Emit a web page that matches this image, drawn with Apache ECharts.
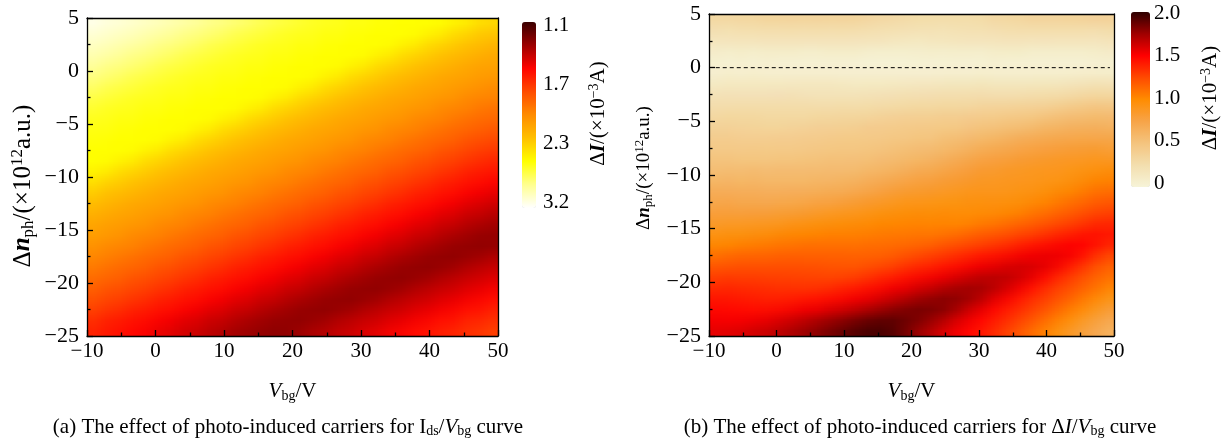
<!DOCTYPE html>
<html><head><meta charset="utf-8">
<script src="https://cdn.jsdelivr.net/npm/echarts@6/dist/echarts.min.js"></script>
<style>
html,body{margin:0;padding:0;background:#fff}
#wrap{position:relative;width:1229px;height:448px;overflow:hidden;background:#fff}
#c{position:absolute;left:0;top:0;width:1229px;height:448px;z-index:2}
.heat{position:absolute;transform-origin:0 0;z-index:1}
</style>
</head><body><div id="wrap"><div id="hA" class="heat"></div><div id="hB" class="heat"></div><div id="c"></div></div>
<script>
// ---------- data ----------
const xTicks = [-10, 0, 10, 20, 30, 40, 50];          // V_bg / V
const yTicks = [-25, -20, -15, -10, -5, 0, 5];        // Δn_ph / (1e12 a.u.)
// heat-map cell centres (V_bg) and rows (Δn_ph, top row first)
const xCells = [-9.06,-7.19,-5.31,-3.44,-1.56,0.31,2.19,4.06,5.94,7.81,9.69,11.56,13.44,15.31,17.19,19.06,
                20.94,22.81,24.69,26.56,28.44,30.31,32.19,34.06,35.94,37.81,39.69,41.56,43.44,45.31,47.19,49.06];
const yCells = [4.5,3.5,2.5,1.5,0.5,-0.5,-1.5,-2.5,-3.5,-4.5,-5.5,-6.5,-7.5,-8.5,-9.5,
                -10.5,-11.5,-12.5,-13.5,-14.5,-15.5,-16.5,-17.5,-18.5,-19.5,-20.5,-21.5,-22.5,-23.5,-24.5];
// (a) colour level, % of the colour bar (0 = white/3.2, 100 = top/1.1)
const levelA = [
[2,3,4,5,6,7,8,9,10,12,13,14,15,17,18,19,20,21,22,22,23,23,24,24,25,25,25,25,26,27,30,32],
[4,5,6,7,8,9,10,12,13,14,15,17,18,19,20,21,22,22,23,23,24,24,25,25,25,25,26,27,30,32,34,36],
[6,7,8,9,10,12,13,14,15,17,18,19,20,21,22,22,23,23,24,24,25,25,25,25,26,27,30,32,34,36,37,39],
[8,9,10,12,13,14,15,17,18,19,20,21,22,22,23,23,24,24,25,25,25,25,26,27,30,32,34,36,37,39,40,42],
[10,12,13,14,15,17,18,19,20,21,22,22,23,23,24,24,25,25,25,25,26,27,30,32,34,36,37,39,40,42,43,44],
[13,14,15,17,18,19,20,21,22,22,23,23,24,24,25,25,25,25,26,27,30,32,34,36,37,39,40,42,43,44,45,46],
[15,17,18,19,20,21,22,22,23,23,24,24,25,25,25,25,26,27,30,32,34,36,37,39,40,42,43,44,45,46,47,49],
[18,19,20,21,22,22,23,23,24,24,25,25,25,25,26,27,30,32,34,36,37,39,40,42,43,44,45,46,47,49,50,51],
[20,21,22,22,23,23,24,24,25,25,25,25,26,27,30,32,34,36,37,39,40,42,43,44,45,46,47,49,50,51,52,54],
[22,22,23,23,24,24,25,25,25,25,26,27,30,32,34,36,37,39,40,42,43,44,45,46,47,49,50,51,52,54,55,56],
[23,23,24,24,25,25,25,25,26,27,30,32,34,36,37,39,40,42,43,44,45,46,47,49,50,51,52,54,55,56,57,59],
[24,24,25,25,25,25,26,27,30,32,34,36,37,39,40,42,43,44,45,46,47,49,50,51,52,54,55,56,57,59,60,62],
[25,25,25,25,26,27,30,32,34,36,37,39,40,42,43,44,45,46,47,49,50,51,52,54,55,56,57,59,60,62,63,65],
[25,25,26,27,30,32,34,36,37,39,40,42,43,44,45,46,47,49,50,51,52,54,55,56,57,59,60,62,63,65,66,68],
[26,27,30,32,34,36,37,39,40,42,43,44,45,46,47,49,50,51,52,54,55,56,57,59,60,62,63,65,66,68,69,71],
[30,32,34,36,37,39,40,42,43,44,45,46,47,49,50,51,52,54,55,56,57,59,60,62,63,65,66,68,69,71,72,74],
[34,36,37,39,40,42,43,44,45,46,47,49,50,51,52,54,55,56,57,59,60,62,63,65,66,68,69,71,72,74,75,77],
[37,39,40,42,43,44,45,46,47,49,50,51,52,54,55,56,57,59,60,62,63,65,66,68,69,71,72,74,75,77,78,80],
[40,42,43,44,45,46,47,49,50,51,52,54,55,56,57,59,60,62,63,65,66,68,69,71,72,74,75,77,78,80,81,83],
[43,44,45,46,47,49,50,51,52,54,55,56,57,59,60,62,63,65,66,68,69,71,72,74,75,77,78,80,81,83,84,86],
[45,46,47,49,50,51,52,54,55,56,57,59,60,62,63,65,66,68,69,71,72,74,75,77,78,80,81,83,84,86,87,88],
[47,49,50,51,52,54,55,56,57,59,60,62,63,65,66,68,69,71,72,74,75,77,78,80,81,83,84,86,87,88,89,89],
[50,51,52,54,55,56,57,59,60,62,63,65,66,68,69,71,72,74,75,77,78,80,81,83,84,86,87,88,89,89,88,86],
[52,54,55,56,57,59,60,62,63,65,66,68,69,71,72,74,75,77,78,80,81,83,84,86,87,88,89,89,88,86,85,83],
[55,56,57,59,60,62,63,65,66,68,69,71,72,74,75,77,78,80,81,83,84,86,87,88,89,89,88,86,85,83,82,80],
[57,59,60,62,63,65,66,68,69,71,72,74,75,77,78,80,81,83,84,86,87,88,89,89,88,86,85,83,82,80,79,77],
[60,62,63,65,66,68,69,71,72,74,75,77,78,80,81,83,84,86,87,88,89,89,88,86,85,83,82,80,79,77,76,74],
[63,65,66,68,69,71,72,74,75,77,78,80,81,83,84,86,87,88,89,89,88,86,85,83,82,80,79,77,76,74,73,71],
[66,68,69,71,72,74,75,77,78,80,81,83,84,86,87,88,89,89,88,86,85,83,82,80,79,77,76,74,73,71,70,68],
[69,71,72,74,75,77,78,80,81,83,84,86,87,88,89,89,88,86,85,83,82,80,79,77,76,74,73,71,70,68,67,65]
];
// (b) ΔI, in units of 1e-5 A (200 = 2.0 ×10^-3 A)
const deltaIB = [
[32,32,33,33,35,35,35,35,36,35,36,35,34,32,31,30,29,29,28,28,28,29,31,32,33,35,35,36,36,37,38,38],
[25,25,26,26,27,27,28,27,28,27,28,27,26,25,24,23,22,22,21,22,23,23,25,26,26,28,28,28,29,28,28,29],
[18,18,19,19,20,20,20,20,20,20,20,20,19,18,17,16,15,16,16,17,18,18,19,20,20,19,20,19,19,19,19,20],
[11,10,12,11,12,12,12,11,11,12,12,12,11,10,9,9,9,10,10,11,11,11,12,12,13,11,11,11,11,11,11,12],
[4,3,4,3,4,3,3,3,3,3,3,3,2,2,2,2,2,3,2,3,3,2,4,3,3,3,3,3,3,3,3,4],
[3,4,3,4,3,3,3,3,3,3,3,2,2,2,2,2,3,2,3,3,2,4,3,3,3,3,3,3,3,3,4,4],
[10,11,11,11,11,11,11,12,12,12,11,10,10,10,11,11,12,12,12,13,13,14,13,13,13,13,13,13,14,15,16,16],
[17,18,17,18,17,18,19,18,18,17,17,16,17,17,18,19,19,20,21,21,21,22,21,21,21,21,22,23,24,25,27,28],
[23,24,24,24,24,24,24,24,23,23,24,23,24,25,25,27,28,28,29,29,29,30,30,30,31,32,33,34,37,39,41,41],
[29,30,30,30,29,29,29,29,30,30,31,31,31,33,34,35,36,36,37,37,38,39,39,41,42,43,45,48,50,51,54,54],
[35,35,34,34,33,33,34,34,35,36,36,37,38,39,40,41,42,42,43,43,45,47,48,49,51,53,56,57,60,61,62,62],
[39,39,38,38,38,38,38,39,39,41,42,42,43,44,45,46,47,47,49,51,52,55,56,59,62,63,66,68,68,70,70,70],
[43,43,42,42,42,43,42,44,45,45,46,46,47,48,49,50,52,53,55,57,60,64,66,68,71,73,74,76,77,78,79,78],
[48,48,47,48,46,48,48,49,49,50,50,50,51,52,54,56,58,59,62,65,69,72,74,76,78,80,82,83,84,84,86,85],
[53,53,52,53,52,53,53,53,53,54,54,54,56,58,60,62,65,67,70,73,76,80,81,83,85,86,88,88,90,91,92,94],
[58,59,58,59,58,58,58,58,59,59,60,61,63,65,68,71,74,75,78,80,82,85,86,87,88,89,90,90,92,94,98,101],
[65,65,64,64,63,63,63,63,64,65,66,67,70,73,76,78,81,82,83,85,87,89,89,89,91,91,93,95,98,102,106,109],
[71,71,70,70,69,69,70,71,72,73,75,77,80,82,85,87,88,89,90,91,92,93,93,93,94,96,99,103,106,110,114,117],
[77,77,76,76,76,77,78,79,81,83,85,86,89,91,92,94,95,95,96,96,96,97,96,98,101,104,107,111,114,118,122,125],
[83,83,83,84,84,85,87,89,91,92,94,95,96,98,99,100,101,100,101,100,100,103,104,107,109,113,116,119,123,127,131,134],
[90,91,91,92,93,95,97,98,100,101,101,102,103,104,105,105,106,105,106,107,109,113,114,117,120,123,127,130,134,138,141,141],
[98,99,100,102,103,104,106,107,107,108,108,108,109,109,110,110,111,112,115,118,120,124,126,129,133,136,140,144,147,148,147,141],
[107,109,110,111,112,113,113,114,114,114,114,113,114,114,115,117,120,123,126,129,132,136,139,142,146,150,153,154,153,148,139,129],
[117,118,119,120,119,120,120,120,120,119,119,118,119,121,124,128,131,134,138,141,145,149,152,156,159,160,159,154,145,136,127,118],
[126,127,126,127,126,126,126,125,125,124,124,125,128,132,135,139,143,146,151,154,158,163,165,166,165,160,151,142,133,125,119,112],
[133,134,133,133,132,131,131,130,130,131,133,136,139,143,147,151,156,159,164,168,171,173,171,166,157,148,139,131,125,119,113,105],
[140,140,139,138,137,136,136,137,139,142,144,147,151,155,160,164,169,173,177,178,177,173,163,154,145,137,131,125,119,112,104,95],
[146,145,144,143,142,143,145,148,150,153,156,159,164,168,173,178,182,183,183,178,169,161,151,143,137,131,125,118,110,102,94,84],
[151,150,149,150,152,155,158,162,166,170,174,178,182,185,187,186,184,180,174,166,157,150,143,137,131,124,116,108,100,91,83,74],
[156,157,158,161,163,166,170,174,178,182,186,190,193,194,192,186,178,171,163,155,149,144,137,130,122,114,106,97,89,81,74,66]
];
const cbarATicks = ['3.2', '2.3', '1.7', '1.1'];
const cbarBTicks = ['0', '0.5', '1.0', '1.5', '2.0'];
const refLineB = [[-9, 0], [49.4, 0]];   // dashed Δn_ph = 0 line in (b)

// ---------- layout / styling ----------
const plotA = {left: 87, top: 18, width: 411, height: 318};
const plotB = {left: 709, top: 14, width: 405, height: 322};
const SERIF = '"Liberation Serif","Times New Roman",serif';
function richFor(fs, sfs) {
  const b = {fontFamily: SERIF, fontSize: fs, color: '#000', lineHeight: Math.round(fs * 1.2)};
  const pad = Math.round(fs * 0.45);
  return {
    n: Object.assign({}, b),
    it: Object.assign({}, b, {fontStyle: 'italic'}),
    bi: Object.assign({}, b, {fontStyle: 'italic', fontWeight: 'bold'}),
    sub: {fontFamily: SERIF, fontSize: sfs, color: '#000', lineHeight: sfs, padding: [pad, 0, 0, 0]},
    sup: {fontFamily: SERIF, fontSize: sfs, color: '#000', lineHeight: sfs, padding: [0, 0, pad, 0]}
  };
}
const rich21 = richFor(21, 14);
const richYA = richFor(25, 17);
const richYB = richFor(19, 13);
const minus = v => (v < 0 ? '\u2212' + Math.abs(v) : String(v));
const lineS = {color: '#000', width: 1.3};
const cA = ['#ffffff','#ffff90','#ffff00','#ffc000','#ff8c00','#ff4c00','#ff0400','#9c0000','#3a0000'];
const cB = ['#f6f4d8','#f3deae','#f4c47e','#f7a448','#ff8c00','#ff4a00','#ff0000','#a00000','#2e0000'];

const yName = '{n|\u0394}{bi|n}{sub|ph}{n|/(\u00d710}{sup|12}{n|a.u.)}';
const xName = '{it|V}{sub|bg}{n|/V}';
const cbName = '{n|\u0394}{bi|I}{n|/(\u00d710}{sup|\u22123}{n|A)}';

function valX(g) {
  return {type: 'value', gridIndex: g, position: 'bottom', min: xTicks[0], max: xTicks[xTicks.length - 1],
    interval: xTicks[1] - xTicks[0], z: 10,
    axisLine: {show: true, onZero: false, lineStyle: lineS},
    axisTick: {show: true, inside: true, length: 6, lineStyle: lineS},
    minorTick: {show: true, splitNumber: 2, length: 3.5, lineStyle: lineS},
    axisLabel: {color: '#000', fontFamily: SERIF, fontSize: 21, margin: 5, formatter: minus},
    splitLine: {show: false}, minorSplitLine: {show: false},
    name: xName, nameLocation: 'middle', nameGap: 43, nameTextStyle: {rich: rich21}};
}
function valY(g, rich, gap, pad) {
  return {type: 'value', gridIndex: g, position: 'left', min: yTicks[0], max: yTicks[yTicks.length - 1],
    interval: yTicks[1] - yTicks[0], z: 10,
    axisLine: {show: true, onZero: false, lineStyle: lineS},
    axisTick: {show: true, inside: true, length: 6, lineStyle: lineS},
    minorTick: {show: true, splitNumber: 2, length: 3.5, lineStyle: lineS},
    axisLabel: {color: '#000', fontFamily: SERIF, fontSize: 22, margin: 8, formatter: minus},
    splitLine: {show: false}, minorSplitLine: {show: false},
    name: yName, nameLocation: 'middle', nameRotate: 90, nameGap: gap,
    nameTextStyle: {rich: rich, padding: pad}};
}
function catX(g) {
  return {type: 'category', gridIndex: g, position: 'top', data: xCells, boundaryGap: true, z: 10,
    axisLine: {show: true, onZero: false, lineStyle: lineS}, axisTick: {show: false},
    axisLabel: {show: false}, splitLine: {show: false}};
}
function catY(g) {
  return {type: 'category', gridIndex: g, position: 'right', data: yCells, inverse: true, boundaryGap: true, z: 10,
    axisLine: {show: true, onZero: false, lineStyle: lineS}, axisTick: {show: false},
    axisLabel: {show: false}, splitLine: {show: false}};
}
function cbY(g, ticks, margin, gap) {
  return {type: 'category', gridIndex: g, position: 'right', data: ticks, boundaryGap: false,
    axisLine: {show: false}, axisTick: {show: false}, splitLine: {show: false},
    axisLabel: {color: '#000', fontFamily: SERIF, fontSize: 21, margin: margin},
    name: cbName, nameLocation: 'middle', nameRotate: 90, nameGap: gap, nameTextStyle: {rich: rich21}};
}
function toCells(m) {
  const out = [];
  m.forEach((row, i) => row.forEach((v, j) => out.push([j, i, v])));
  return out;
}
function gridOf(p) {
  return {left: p.left, top: p.top, width: p.width, height: p.height, outerBoundsMode: 'none'};
}

// ---- smooth heat maps: each cell is 1 canvas pixel, the browser scales the picture up to the plot area ----
function heatChart(id, plot, matrix, min, max, colors) {
  const el = document.getElementById(id);
  const nx = matrix[0].length, ny = matrix.length;
  el.style.left = plot.left + 'px';
  el.style.top = plot.top + 'px';
  el.style.width = nx + 'px';
  el.style.height = ny + 'px';
  el.style.transform = 'scale(' + (plot.width / nx) + ',' + (plot.height / ny) + ')';
  const ch = echarts.init(el, null, {renderer: 'canvas', devicePixelRatio: 1});
  ch.setOption({
    animation: false,
    grid: {left: 0, top: 0, right: 0, bottom: 0, outerBoundsMode: 'none'},
    xAxis: {type: 'category', data: xCells, show: false, boundaryGap: true},
    yAxis: {type: 'category', data: yCells, show: false, inverse: true, boundaryGap: true},
    visualMap: {show: false, type: 'continuous', min: min, max: max, inRange: {color: colors}},
    series: [{type: 'heatmap', data: toCells(matrix), progressive: 0, silent: true}]
  });
}
heatChart('hA', plotA, levelA, 0, 100, cA);
heatChart('hB', plotB, deltaIB, 0, 200, cB);

const option = {
  animation: false,
  grid: [
    gridOf(plotA), gridOf(plotB),
    {left: 522, top: 25, width: 14, height: 177, outerBoundsMode: 'none'},
    {left: 1131, top: 13, width: 19, height: 170, outerBoundsMode: 'none'}
  ],
  xAxis: [valX(0), catX(0), valX(1), catX(1),
    {type: 'value', gridIndex: 2, show: false, min: 0, max: 1},
    {type: 'value', gridIndex: 3, show: false, min: 0, max: 1}],
  yAxis: [valY(0, richYA, 49, [0, 18, 0, 0]), catY(0), valY(1, richYB, 53, [0, 0, 0, 14]), catY(1),
    cbY(2, cbarATicks, 7, 50), cbY(3, cbarBTicks, 4, 48)],
  visualMap: [
    {type: 'continuous', seriesIndex: 0, min: 0, max: 100, calculable: false, orient: 'vertical',
      left: 522, top: 22, itemWidth: 14, itemHeight: 186, padding: 0, hoverLink: false,
      inRange: {color: cA}},
    {type: 'continuous', seriesIndex: 1, min: 0, max: 200, calculable: false, orient: 'vertical',
      left: 1131, top: 12, itemWidth: 19, itemHeight: 175, padding: 0, hoverLink: false,
      inRange: {color: cB}}
  ],
  series: [
    // same cells, kept in the main chart for the colour scales; shown by the smooth layers underneath
    {type: 'heatmap', xAxisIndex: 1, yAxisIndex: 1, data: toCells(levelA), z: 1, silent: true,
      progressive: 0, itemStyle: {opacity: 0}},
    {type: 'heatmap', xAxisIndex: 3, yAxisIndex: 3, data: toCells(deltaIB), z: 1, silent: true,
      progressive: 0, itemStyle: {opacity: 0}},
    {type: 'line', xAxisIndex: 2, yAxisIndex: 2, data: refLineB, symbol: 'none', z: 5, silent: true,
      lineStyle: {color: '#000', width: 1, type: [4, 3]}}
  ],
  graphic: [
    {type: 'text', x: 288, y: 427, silent: true,
      style: {text: '{n|(a) The effect of photo-induced carriers for I}{sub|ds}{n|/}{it|V}{sub|bg}{n| curve}',
        rich: rich21, align: 'center', verticalAlign: 'middle', textAlign: 'center', textVerticalAlign: 'middle'}},
    {type: 'text', x: 920, y: 427, silent: true,
      style: {text: '{n|(b) The effect of photo-induced carriers for \u0394}{it|I}{n|/}{it|V}{sub|bg}{n| curve}',
        rich: rich21, align: 'center', verticalAlign: 'middle', textAlign: 'center', textVerticalAlign: 'middle'}}
  ]
};
const chart = echarts.init(document.getElementById('c'), null, {renderer: 'canvas'});
chart.setOption(option);
</script></body></html>
